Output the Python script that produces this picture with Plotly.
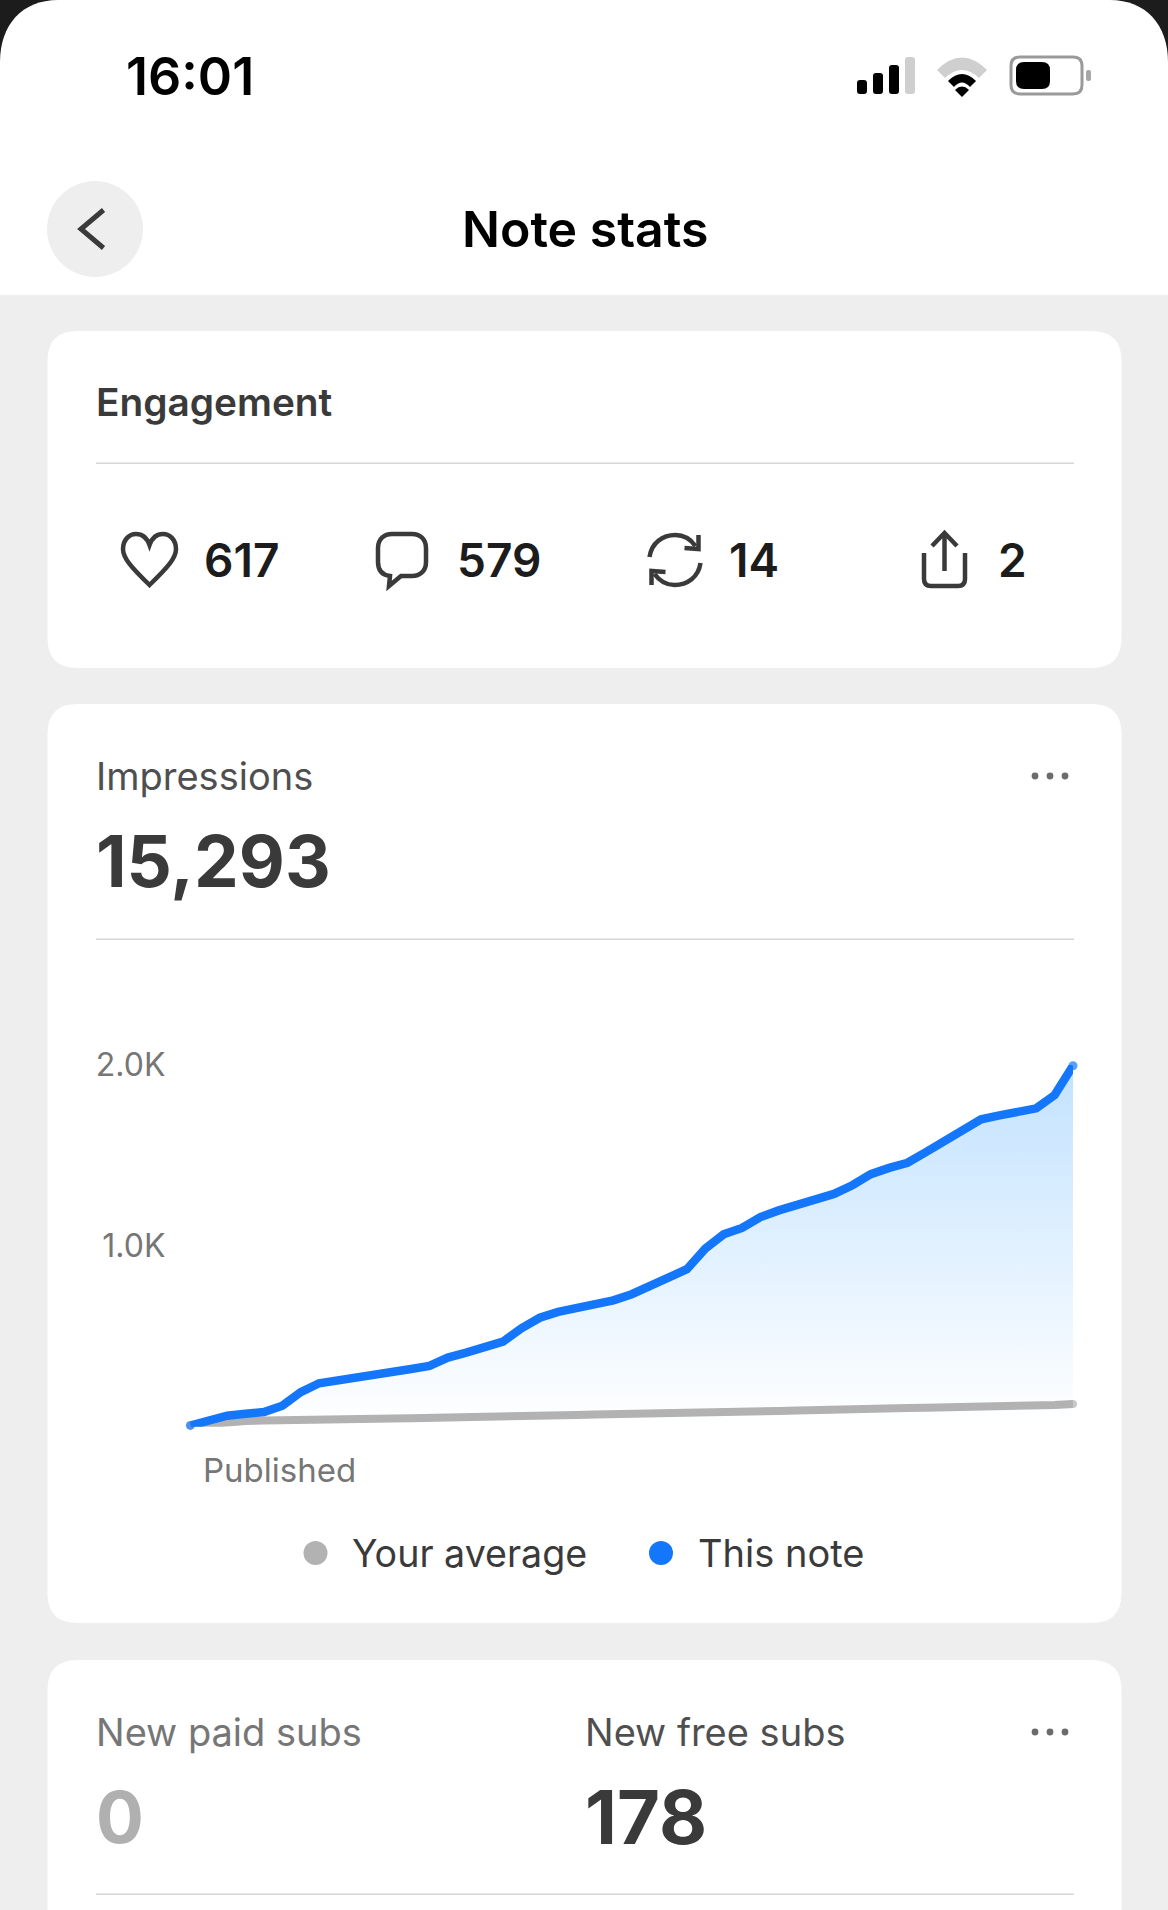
import re
import plotly.graph_objects as go

# screen size of the screenshot
W = 1168
H = 1910

# chart data (hours since publishing, 0 to 48)
hours = list(range(49))
this_note = [7, 33, 61, 71, 81, 116, 191, 240, 258, 274, 289, 303, 319, 336, 382, 409, 437,
             470, 543, 602, 634, 653, 673, 698, 732, 779, 834, 870, 984, 1063, 1098, 1158,
             1195, 1227, 1257, 1286, 1334, 1395, 1430, 1458, 1517, 1576, 1645, 1698, 1720,
             1738, 1759, 1832, 1994]
your_average = [7, 18, 27, 31, 34, 37, 39, 41, 42, 43, 44, 45, 46, 47, 49, 51, 53,
                55, 57, 60, 62, 65, 68, 71, 72, 74, 76, 78, 80, 82, 84, 86,
                87, 89, 93, 96, 98, 99, 101, 103, 105, 106, 108, 110, 112, 114, 116, 120, 126]

y_ticks = [1000, 2000]
y_tick_labels = ["1.0K", "2.0K"]
x_ticks = [4.85]
x_tick_labels = ["Published"]

engagement = ["617", "579", "14", "2"]

FONT = "Inter"
BLUE = "#1477fb"
GRAY = "#b2b2b2"
DARK = "#3a3a3a"
MUTED = "#767676"
RULE = "#d6d6d6"


def fx(x):
    return x / W


def fy(y):
    return 1 - y / H


def path(d):
    # turn "x,y" pixel pairs into paper coordinates
    return re.sub(r"(-?[\d.]+),(-?[\d.]+)", lambda m: f"{fx(float(m[1])):.5f},{fy(float(m[2])):.5f}", d)


shapes = []
notes = []


def fill_path(d, color, layer="below"):
    shapes.append(dict(type="path", xref="paper", yref="paper", path=path(d), fillcolor=color,
                       line=dict(width=0), layer=layer))


def stroke_path(d, color=DARK, width=4.5):
    shapes.append(dict(type="path", xref="paper", yref="paper", path=path(d),
                       line=dict(color=color, width=width), layer="below"))


def rect(x0, y0, x1, y1, color):
    shapes.append(dict(type="rect", xref="paper", yref="paper", x0=fx(x0), x1=fx(x1), y0=fy(y0), y1=fy(y1),
                       fillcolor=color, line=dict(width=0), layer="below"))


def rounded(x0, y0, x1, y1, r, color):
    fill_path(f"M {x0 + r},{y0} L {x1 - r},{y0} Q {x1},{y0} {x1},{y0 + r} L {x1},{y1 - r} "
              f"Q {x1},{y1} {x1 - r},{y1} L {x0 + r},{y1} Q {x0},{y1} {x0},{y1 - r} "
              f"L {x0},{y0 + r} Q {x0},{y0} {x0 + r},{y0} Z", color)


def dot(cx, cy, r, color):
    shapes.append(dict(type="circle", xref="paper", yref="paper", x0=fx(cx - r), x1=fx(cx + r),
                       y0=fy(cy - r), y1=fy(cy + r), fillcolor=color, line=dict(width=0), layer="below"))


def label(x, y, text, size, color=DARK, weight=400, anchor="left"):
    notes.append(dict(x=fx(x), y=fy(y), xref="paper", yref="paper", text=text, showarrow=False,
                      xanchor=anchor, yanchor="middle", borderpad=0,
                      font=dict(family=FONT, size=size, color=color, weight=weight)))


# page, phone corners and header
rect(0, 0, W, H, "#eeeeee")
rect(0, 0, W, 70, "#1c1c1c")
fill_path(f"M 0,62 C 0,25 22,0 58,0 L {W - 58},0 C {W - 22},0 {W},25 {W},62 L {W},295 L 0,295 Z", "#ffffff")

# status bar
label(190, 76, "16:01", 52, "#000000", 600, "center")
for bar_x, bar_top, bar_color in [(862, 80, "#000000"), (878, 73, "#000000"), (894, 65, "#000000"), (910, 57, "#cfcfcf")]:
    rounded(bar_x - 5, bar_top, bar_x + 5, 94, 3, bar_color)
fill_path("M 937,70 Q 962,45 987,70 L 979,78 Q 962,62 945,78 Z", "#cfcfcf")
fill_path("M 948,81 Q 962,67 976,81 L 970,87 Q 962,78 954,87 Z", "#000000")
fill_path("M 955,90 Q 962,83 969,90 L 962,97 Z", "#000000")
stroke_path("M 1020,57 L 1073,57 Q 1082,57 1082,66 L 1082,85 Q 1082,94 1073,94 L 1020,94 "
            "Q 1011,94 1011,85 L 1011,66 Q 1011,57 1020,57 Z", "#9a9a9a", 3)
rounded(1016, 62, 1050, 89, 8, "#000000")
rounded(1086, 70, 1091, 81, 2, "#a8a8a8")

# nav bar
dot(95, 229, 48, "#eeeeee")
stroke_path("M 103.5,210 L 81,229 L 103.5,248", DARK, 5)
label(585, 229, "Note stats", 50, "#000000", 600, "center")

# engagement card
rounded(47.5, 331, 1121.5, 668, 30, "#ffffff")
label(95, 402, "Engagement", 38.8, DARK, 600)
rect(96, 462.5, 1074, 464, RULE)
for text_x, value in zip([203, 456, 728, 997], engagement):
    label(text_x, 560, value, 46, "#1c1c1c", 600)
stroke_path("M 149.5,585 C 131,567 123,558 123,549 C 123,540 129,534 136,534 C 142,534 147,538 149.5,545 "
            "C 152,538 157,534 163,534 C 170,534 176,540 176,549 C 176,558 168,567 149.5,585 Z")
stroke_path("M 389,586 L 390,576 C 382,575 378,570 378,562 L 378,548 C 378,539 384,534 392,534 L 412,534 "
            "C 420,534 426,539 426,548 L 426,562 C 426,571 420,576 412,576 L 401,576 Z")
stroke_path("M 649.5,557 C 651.5,543 662.5,535 675.5,535 C 683.5,535 690.5,539 695.5,546")
stroke_path("M 698.5,535 L 698.5,549 L 684.5,548")
stroke_path("M 700.5,563 C 698.5,577 687.5,585 674.5,585 C 666.5,585 659.5,581 654.5,574")
stroke_path("M 651.5,585 L 651.5,571 L 665.5,572")
stroke_path("M 944.5,571 L 944.5,534")
stroke_path("M 932,546 L 944.5,533 L 957,546")
stroke_path("M 924,553 L 924,579 Q 924,586 931,586 L 958,586 Q 965,586 965,579 L 965,553")

# impressions card
rounded(47.5, 704, 1121.5, 1623, 30, "#ffffff")
label(95, 776, "Impressions", 38, "#4f4f4f")
label(95, 861, "15,293", 71, DARK, 700)
for dot_x in [1035, 1050, 1065]:
    dot(dot_x, 776, 3.4, "#6b6b6b")
rect(96, 938.5, 1074, 940, RULE)

# legend
dot(315.5, 1553, 12, GRAY)
label(351, 1553, "Your average", 37.6)
dot(661, 1553, 12, BLUE)
label(697, 1553, "This note", 38)

# subs card, runs off the bottom of the screen
rounded(47.5, 1660, 1121.5, 1960, 30, "#ffffff")
label(95, 1732, "New paid subs", 38, MUTED)
label(584, 1732, "New free subs", 38, "#4f4f4f")
label(95, 1817, "0", 71, "#b0b0b0", 700)
label(584, 1817, "178", 74, DARK, 700)
for dot_x in [1035, 1050, 1065]:
    dot(dot_x, 1732, 3.4, "#6b6b6b")
rect(96, 1893.5, 1074, 1895, RULE)

fig = go.Figure()
# area goes in its own trace so both lines stay on top of it
fig.add_trace(go.Scatter(x=hours, y=this_note, mode="none", fill="tozeroy",
                         fillgradient=dict(type="vertical",
                                           colorscale=[[0, "#ffffff"], [1, "#c2e2ff"]]),
                         showlegend=False, hoverinfo="skip"))
fig.add_trace(go.Scatter(x=hours, y=your_average, mode="lines+markers", name="Your average",
                         line=dict(color=GRAY, width=8),
                         marker=dict(color=GRAY, size=[8] + [0] * 47 + [8], line=dict(width=0)),
                         cliponaxis=False, showlegend=False))
fig.add_trace(go.Scatter(x=hours, y=this_note, mode="lines+markers", name="This note",
                         line=dict(color=BLUE, width=8.5),
                         marker=dict(color=BLUE, size=[9] + [0] * 47 + [9], line=dict(width=0)),
                         cliponaxis=False, showlegend=False))

fig.update_layout(width=W, height=H, margin=dict(l=0, r=0, t=0, b=0),
                  paper_bgcolor="#eeeeee", plot_bgcolor="rgba(0,0,0,0)",
                  shapes=shapes, annotations=notes, showlegend=False, hovermode=False)
# automargin off, it pushes the whole page down otherwise
fig.update_xaxes(domain=[fx(190.4), fx(1073)], range=[0, 48], showgrid=False, zeroline=False, showline=False,
                 automargin=False, tickmode="array", tickvals=x_ticks, ticktext=x_tick_labels, ticks="",
                 ticklabelstandoff=21, tickfont=dict(family=FONT, size=33, color=MUTED))
fig.update_yaxes(domain=[fy(1426.7), fy(1064.7)], range=[0, 2000], showgrid=False, zeroline=False, showline=False,
                 automargin=False, tickmode="array", tickvals=y_ticks, ticktext=y_tick_labels, ticks="",
                 ticklabelstandoff=24, tickfont=dict(family=FONT, size=32, color=MUTED))

fig.write_html("out.html", config=dict(displayModeBar=False),
               post_script="document.body.style.margin='0';document.body.style.overflow='hidden';")
